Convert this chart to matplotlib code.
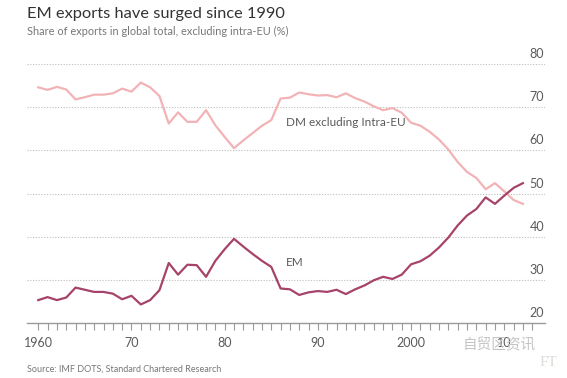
import matplotlib
matplotlib.use("Agg")
import matplotlib.pyplot as plt
import matplotlib.transforms as mtransforms
import numpy as np

plt.rcParams["font.family"] = ["Lato", "DejaVu Sans"]

# Share of exports in global total, excluding intra-EU (%)
years = list(range(1960, 2013))
dm_values = [74.6, 74.0, 74.7, 74.1, 71.8, 72.3, 72.9, 72.9, 73.2, 74.3,
             73.6, 75.7, 74.6, 72.6, 66.2, 68.8, 66.6, 66.6, 69.3, 65.8,
             63.1, 60.5, 62.3, 64.0, 65.7, 67.0, 72.0, 72.2, 73.4, 73.0,
             72.7, 72.8, 72.3, 73.2, 72.1, 71.3, 70.2, 69.3, 69.8, 68.7,
             66.4, 65.7, 64.3, 62.5, 60.2, 57.3, 55.0, 53.6, 51.0, 52.4,
             50.5, 48.5, 47.6]
em_values = [25.3, 26.0, 25.3, 25.9, 28.2, 27.7, 27.2, 27.2, 26.8, 25.5,
             26.3, 24.3, 25.3, 27.6, 33.9, 31.2, 33.5, 33.4, 30.7, 34.4,
             37.1, 39.5, 37.7, 36.0, 34.4, 33.0, 28.0, 27.8, 26.5, 27.1,
             27.4, 27.2, 27.7, 26.7, 27.8, 28.7, 29.9, 30.7, 30.2, 31.2,
             33.6, 34.3, 35.6, 37.5, 39.8, 42.6, 44.9, 46.4, 49.1, 47.6,
             49.5, 51.3, 52.4]

x_ticks = [1960, 1970, 1980, 1990, 2000, 2010]
x_tick_labels = ["1960", "70", "80", "90", "2000", "10"]
y_ticks = [20, 30, 40, 50, 60, 70, 80]

DM_COLOR = "#f2b3b6"
EM_COLOR = "#a6436a"
GRID_COLOR = "#bdbdbd"
TEXT_COLOR = "#5a5a5a"

fig = plt.figure(figsize=(5.67, 3.78), dpi=100)
ax = fig.add_axes([27 / 567, 1 - 323 / 378, (545 - 27) / 567, (323 - 64) / 378])

ax.set_xlim(1958.79, 2014.37)
ax.set_ylim(20, 80)

ax.plot(years, dm_values, color=DM_COLOR, lw=1.6, solid_joinstyle="round", zorder=3)
ax.plot(years, em_values, color=EM_COLOR, lw=1.6, solid_joinstyle="round", zorder=4)

# dotted horizontal grid
for v in y_ticks[1:]:
    ax.axhline(v, color=GRID_COLOR, lw=0.8, ls=(0, (1, 1.5)), zorder=1)

# y labels sit on the right, just above the grid lines
trans = mtransforms.blended_transform_factory(ax.transAxes, ax.transData)
for v in y_ticks:
    ax.text(0.998, v + 0.9, str(v), transform=trans, ha="right", va="bottom",
            fontsize=9, color=TEXT_COLOR)

for side in ["top", "right", "left"]:
    ax.spines[side].set_visible(False)
ax.spines["bottom"].set_color("#9a9a9a")
ax.spines["bottom"].set_linewidth(1.0)

ax.set_yticks([])
ax.set_xticks(x_ticks)
ax.set_xticklabels(x_tick_labels, fontsize=9, color=TEXT_COLOR)
ax.set_xticks(range(1960, 2014), minor=True)
ax.tick_params(axis="x", which="both", length=5, width=0.8, color="#9a9a9a",
               direction="out", pad=5)

# series labels
ax.text(1986.6, 66.5, "DM excluding Intra-EU", fontsize=8.5, color=TEXT_COLOR,
        va="center", ha="left")
ax.text(1986.6, 34.0, "EM", fontsize=8.5, color=TEXT_COLOR, va="center", ha="left")

# titles and source
fig.text(27 / 567, 1 - 14 / 378, "EM exports have surged since 1990",
         fontsize=11.8, color="#333333", va="center", ha="left")
fig.text(27 / 567, 1 - 31 / 378, "Share of exports in global total, excluding intra-EU (%)",
         fontsize=7.9, color="#777777", va="center", ha="left")
fig.text(27 / 567, 1 - 369 / 378, "Source: IMF DOTS, Standard Chartered Research",
         fontsize=6.5, color="#777777", va="center", ha="left")

# watermark
fig.text(463 / 567, 1 - 345 / 378, "自贸区资讯", fontsize=10.5, color="#c4c4c4",
         family=["Noto Sans CJK SC", "DejaVu Sans"], va="center", ha="left")
fig.text(540 / 567, 1 - 363 / 378, "FT", fontsize=11, color="#e0dcd8",
         family="Liberation Serif", va="center", ha="left")

fig.savefig("out.png", dpi=100, facecolor="white")
